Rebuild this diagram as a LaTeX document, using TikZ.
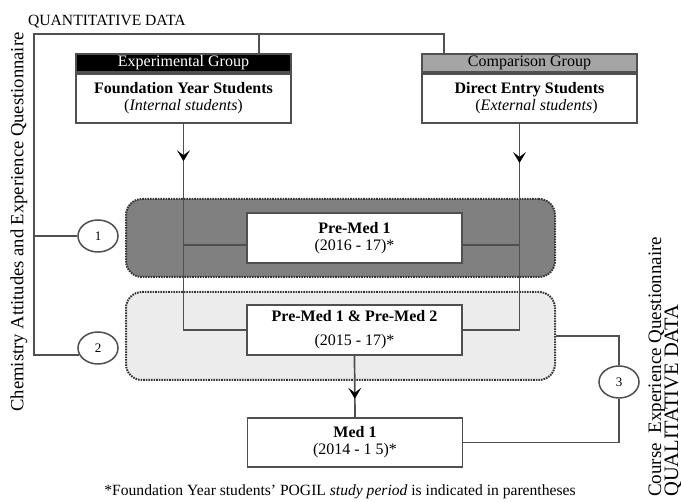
\documentclass[tikz,border=0pt]{standalone}
\usepackage{fontspec}
\setmainfont{Liberation Serif}
\usetikzlibrary{arrows.meta,decorations.markings,shapes.geometric}

\begin{document}
\begin{tikzpicture}[x=1pt,y=-1pt,
  ln/.style={draw=g1,line width=1.7pt},
  box/.style={draw=g1,line width=1.7pt,fill=white,minimum width=215pt,
    inner sep=0pt,align=center,font=\fontsize{16}{17}\selectfont},
  head/.style={box,minimum height=18pt},
  band/.style={draw=g2,line width=2pt,dash pattern=on 1.6pt off 1pt,
    rounded corners=16pt,minimum width=429pt},
  num/.style={draw=g1,line width=1.5pt,fill=white,ellipse,minimum width=40pt,
    minimum height=32pt,inner sep=0pt,font=\fontsize{13}{13}\selectfont},
  midarr/.style={postaction={decorate},decoration={markings,
    mark=at position #1 with {\arrow[black]{Stealth[length=11pt,width=13pt,inset=5pt]}}}}
]
 \definecolor{g1}{RGB}{80,80,80}
 \definecolor{g2}{RGB}{55,55,55}
 \definecolor{g3}{RGB}{128,128,128}
 \definecolor{g4}{RGB}{236,236,236}
 \definecolor{g5}{RGB}{165,165,165}
 \useasboundingbox (0,0) rectangle (681,502);

 % study years
 \node[band,fill=g3,minimum height=78pt] (darkbd) at (340.5,238) {};
 \node[band,fill=g4,minimum height=88pt] (lightbd) at (340.5,336) {};

 % groups
 \node[head,fill=black,text=white] (exphd) at (183.5,63) {Experimental Group};
 \node[box,minimum height=49pt,anchor=north] (expbx) at (exphd.south)
   {\textbf{Foundation Year Students}\\(\textit{Internal students})};
 \node[head,fill=g5] (cmphd) at (529.5,63) {Comparison Group};
 \node[box,minimum height=49pt,anchor=north] (cmpbx) at (cmphd.south)
   {\textbf{Direct Entry Students}\\\hspace*{14pt}(\textit{External students})};

 \node[box,minimum height=50pt] (pm1) at (354.5,238)
   {\textbf{Pre-Med 1}\\(2016 - 17)*};
 \node[box,minimum height=50pt] (pm12) at (354.5,330)
   {\textbf{Pre-Med 1 \& Pre-Med 2}\\[7pt](2015 - 17)*};
 \node[box,minimum height=49pt] (med1) at (355,442.5)
   {\textbf{Med 1}\\(2014 - 1 5)*};

 \foreach \nm/\xp/\yp in {1/98/236, 2/98/348, 3/619/382}
   \node[num] (c\nm) at (\xp,\yp) {\nm};

 % into the years
 \coordinate (cmpdrop) at ([xshift=-10pt]cmpbx.south);
 \coordinate (pm1l) at ([yshift=-7pt]pm1.west);
 \coordinate (pm1r) at ([yshift=-7pt]pm1.east);
 \draw[ln,midarr=0.14] (expbx.south) |- (pm12.west);
 \draw[ln] (pm1l) -- (pm1l -| expbx.south);
 \draw[ln,midarr=0.15] (cmpdrop) |- (pm12.east);
 \draw[ln] (pm1r) -- (pm1r -| cmpdrop);
 \draw[ln,midarr=0.7] (pm12.south) -- (med1.north);

 % questionnaires
 \coordinate (qtop) at (34,34);
 \draw[ln] (c2.200) -| (qtop) -| ([xshift=23pt]cmphd.north west);
 \draw[ln] ([xshift=-33pt]exphd.north east) |- (qtop);
 \draw[ln] (c1.west) -- (c1.west -| qtop);
 \draw[ln] (lightbd.east) -| (c3.north);
 \draw[ln] (c3.south) |- (med1.east);

 % labels
 \node[font=\fontsize{15.6}{16}\selectfont,anchor=base west,inner sep=0pt]
   (qnt) at (28,26) {QUANTITATIVE DATA};
 \node[rotate=90,font=\fontsize{18.6}{19}\selectfont,inner sep=0pt]
   (chemq) at (19,222) {Chemistry Attitudes and Experience Questionnaire};
 \node[rotate=90,anchor=base west,font=\fontsize{19}{19}\selectfont,inner sep=0pt]
   (ceq) at (661,497) {Course\ \ Experience Questionnaire};
 \node[rotate=90,anchor=base west,font=\fontsize{20.5}{21}\selectfont,inner sep=0pt]
   (qlt) at (678,497) {QUALITATIVE DATA};
 \node[font=\fontsize{15.6}{16}\selectfont,anchor=base,inner sep=0pt]
   (fnote) at (340,496) {*Foundation Year students’ POGIL \textit{study period} is indicated in parentheses};
\end{tikzpicture}
\end{document}
